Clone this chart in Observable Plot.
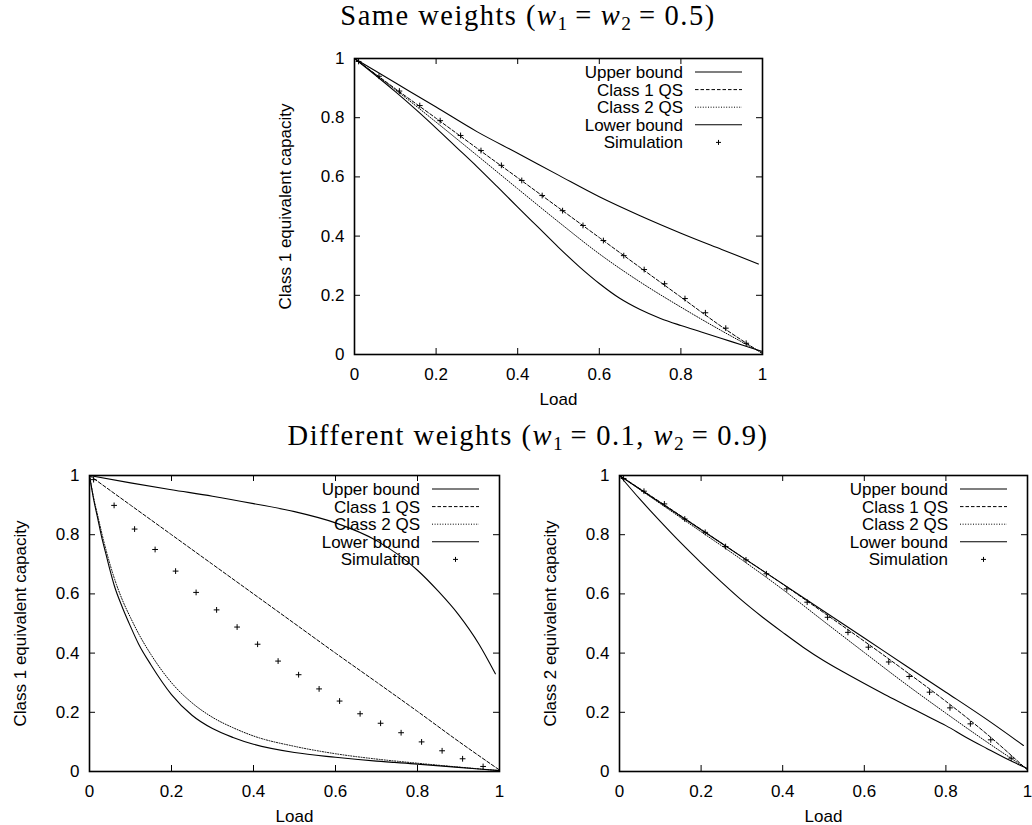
<!DOCTYPE html>
<html><head><meta charset="utf-8">
<script src="https://cdn.jsdelivr.net/npm/d3@7"></script>
<script src="https://cdn.jsdelivr.net/npm/@observablehq/plot@0.6"></script>
<style>
body{margin:0;background:#fff;}
#wrap{position:relative;width:1032px;height:825px;overflow:hidden;background:#fff;}
.title{position:absolute;left:12px;width:1032px;text-align:center;font-family:"Liberation Serif","DejaVu Serif",serif;font-size:28.5px;letter-spacing:1.5px;line-height:30px;color:#000;white-space:nowrap;}
.title sub{font-size:68%;vertical-align:-0.28em;line-height:0;letter-spacing:0;}
.title i{font-style:italic;}
.title .op{margin:0 8px;}
.panel{position:absolute;}
</style></head>
<body><div id="wrap">
<div class="title" style="top:1px">Same weights (<i>w</i><sub>1</sub><span class="op">=</span><i>w</i><sub>2</sub><span class="op">=</span>0.5)</div>
<div class="title" style="top:421px">Different weights (<i>w</i><sub>1</sub><span class="op">=</span>0.1, <i>w</i><sub>2</sub><span class="op">=</span>0.9)</div>
<div class="panel" id="pTop" style="left:274px;top:46px"></div>
<div class="panel" id="pBL" style="left:9px;top:463px"></div>
<div class="panel" id="pBR" style="left:539px;top:463px"></div>
</div>
<script>
// ---------- shared ----------
const loadTicks = [0, 0.2, 0.4, 0.6, 0.8, 1];
const tickLabels = ["0", "0.2", "0.4", "0.6", "0.8", "1"];
const seriesNames = ["Upper bound", "Class 1 QS", "Class 2 QS", "Lower bound", "Simulation"];
const xLabel = "Load";
const simLoad = [0.01,0.06,0.11,0.16,0.21,0.26,0.31,0.36,0.41,0.46,0.51,0.56,0.61,0.66,0.71,0.76,0.81,0.86,0.91,0.96];
const grid10 = [0,0.1,0.2,0.3,0.4,0.5,0.6,0.7,0.8,0.9,1];
const grid20 = [0,0.05,0.1,0.15,0.2,0.25,0.3,0.35,0.4,0.45,0.5,0.55,0.6,0.65,0.7,0.75,0.8,0.85,0.9,0.95,1];

// ---------- top panel: same weights, class 1 ----------
const topYLabel = "Class 1 equivalent capacity";
const topUpperLoad = [0,0.1,0.2,0.3,0.4,0.5,0.6,0.7,0.8,0.9,0.99];
const topUpper = [1,0.918,0.836,0.753,0.68,0.606,0.533,0.469,0.41,0.355,0.306];
const topClass1 = [1,0.898,0.798,0.697,0.597,0.496,0.395,0.294,0.194,0.094,0.003];
const topClass2 = [1,0.895,0.785,0.673,0.56,0.448,0.34,0.245,0.16,0.08,0.005];
const topLower = [1,0.945,0.888,0.828,0.765,0.70,0.635,0.567,0.498,0.43,0.362,0.298,0.24,0.19,0.152,0.122,0.098,0.076,0.054,0.032,0.01];
const topSim = [0.99,0.94,0.89,0.841,0.79,0.74,0.689,0.639,0.588,0.537,0.486,0.436,0.385,0.334,0.287,0.239,0.189,0.141,0.089,0.038];

// ---------- bottom left: different weights, class 1 ----------
const blYLabel = "Class 1 equivalent capacity";
const blUpperLoad = [0,0.1,0.2,0.3,0.4,0.5,0.6,0.7,0.8,0.85,0.9,0.95,0.99];
const blUpper = [1,0.975,0.952,0.93,0.905,0.878,0.84,0.78,0.68,0.61,0.53,0.43,0.33];
const blClass1 = [1,0.9,0.8,0.7,0.6,0.5,0.4,0.302,0.203,0.102,0.005];
const blCurveLoad = [0,0.01,0.02,0.03,0.04,0.05,0.06,0.08,0.1,0.12,0.15,0.2,0.25,0.3,0.35,0.4,0.5,0.6,0.7,0.8,0.9,1];
const blClass2 = [1,0.925,0.865,0.805,0.75,0.7,0.655,0.58,0.52,0.465,0.395,0.3,0.232,0.183,0.148,0.12,0.085,0.06,0.042,0.028,0.015,0.003];
const blLower = [1,0.92,0.855,0.79,0.735,0.68,0.63,0.555,0.49,0.43,0.36,0.26,0.19,0.145,0.115,0.092,0.064,0.048,0.035,0.025,0.014,0.003];
const blSim = [0.986,0.899,0.819,0.75,0.677,0.605,0.546,0.488,0.43,0.373,0.327,0.279,0.238,0.195,0.163,0.131,0.1,0.07,0.043,0.017];

// ---------- bottom right: different weights, class 2 ----------
const brYLabel = "Class 2 equivalent capacity";
const brUpperLoad = [0,0.1,0.2,0.3,0.4,0.5,0.6,0.7,0.8,0.9,0.99];
const brUpper = [1,0.908,0.817,0.725,0.634,0.542,0.451,0.359,0.268,0.176,0.088];
const brClass1 = [1,0.91,0.818,0.725,0.633,0.537,0.44,0.34,0.237,0.127,0.005];
const brClass2 = [1,0.905,0.81,0.715,0.615,0.508,0.402,0.297,0.197,0.1,0.008];
const brLower = [1,0.92,0.845,0.773,0.705,0.64,0.578,0.522,0.47,0.42,0.375,0.335,0.297,0.26,0.225,0.19,0.155,0.115,0.078,0.042,0.01];
const brSim = [0.99,0.947,0.904,0.853,0.808,0.76,0.715,0.668,0.617,0.572,0.521,0.47,0.42,0.37,0.321,0.268,0.215,0.161,0.107,0.045];

const zip = (xs, ys) => xs.map((x, i) => ({x, y: ys[i]}));
const fmt = d => tickLabels[loadTicks.indexOf(d)];
const DASH = "3.5,2";
const DOT = "1,1.6";

function panel(el, cfg) {
  const ml = 80, mt = 12, mb = 52, mr = cfg.mr, W = cfg.innerW, H = 296;
  const inner = loadTicks.slice(1, -1);
  const line = (data, extra) => Plot.line(data, {x: "x", y: "y", stroke: "#000", strokeWidth: 1.1, curve: "monotone-x", ...extra});
  const plot = Plot.plot({
    width: ml + W + mr, height: mt + H + mb,
    marginLeft: ml, marginRight: mr, marginTop: mt, marginBottom: mb,
    style: {fontFamily: "'Liberation Sans', Arial, sans-serif", fontSize: "17px", color: "#000", background: "#fff", overflow: "visible"},
    x: {domain: [0, 1]},
    y: {domain: [0, 1]},
    marks: [
      Plot.axisX(loadTicks, {tickSize: 0, tickPadding: 13, tickFormat: fmt, label: xLabel, labelAnchor: "center", labelArrow: "none", labelOffset: 50, fontSize: 17}),
      Plot.axisY(loadTicks, {tickSize: 0, tickPadding: 10, tickFormat: fmt, label: cfg.ylabel, labelAnchor: "center", labelArrow: "none", labelOffset: 76, fontSize: 17}),
      Plot.ruleX(inner, {x: d => d, insetTop: H - 6, stroke: "#000", strokeWidth: 1}),
      Plot.ruleX(inner, {x: d => d, insetBottom: H - 6, stroke: "#000", strokeWidth: 1}),
      Plot.ruleY(inner, {y: d => d, insetRight: W - 6, stroke: "#000", strokeWidth: 1}),
      Plot.ruleY(inner, {y: d => d, insetLeft: W - 6, stroke: "#000", strokeWidth: 1}),
      line(cfg.upper),
      line(cfg.class1, {strokeDasharray: DASH, strokeWidth: 1}),
      line(cfg.class2, {strokeDasharray: DOT, strokeWidth: 1}),
      line(cfg.lower),
      Plot.dot(cfg.sim, {x: "x", y: "y", symbol: "plus", r: 2, stroke: "#000", strokeWidth: 1}),
      Plot.frame({stroke: "#000", strokeWidth: 1.6})
    ]
  });
  // legend (inside, top-right, gnuplot style)
  const g = d3.select(plot).append("g")
    .attr("transform", `translate(${ml + W},${mt})`)
    .attr("font-family", "'Liberation Sans', Arial, sans-serif")
    .attr("font-size", 17);
  seriesNames.forEach((name, i) => {
    const y = 14 + i * 17.6;
    g.append("text").attr("x", -79).attr("y", y).attr("dy", "0.35em")
      .attr("text-anchor", "end").attr("fill", "#000").text(name);
    if (i < 4) {
      g.append("line").attr("x1", -67).attr("x2", -20).attr("y1", y).attr("y2", y)
        .attr("stroke", "#000").attr("stroke-width", i === 0 || i === 3 ? 1.1 : 1)
        .attr("stroke-dasharray", i === 1 ? DASH : i === 2 ? DOT : null);
    } else {
      g.append("path").attr("d", `M${-46},${y}h5M${-43.5},${y - 2.5}v5`)
        .attr("stroke", "#000").attr("stroke-width", 1).attr("fill", "none");
    }
  });
  document.getElementById(el).appendChild(plot);
}

panel("pTop", {innerW: 408, mr: 20, ylabel: topYLabel,
  upper: zip(topUpperLoad, topUpper), class1: zip(grid10, topClass1), class2: zip(grid10, topClass2),
  lower: zip(grid20, topLower), sim: zip(simLoad, topSim)});
panel("pBL", {innerW: 410, mr: 20, ylabel: blYLabel,
  upper: zip(blUpperLoad, blUpper), class1: zip(grid10, blClass1), class2: zip(blCurveLoad, blClass2),
  lower: zip(blCurveLoad, blLower), sim: zip(simLoad, blSim)});
panel("pBR", {innerW: 408, mr: 5, ylabel: brYLabel,
  upper: zip(brUpperLoad, brUpper), class1: zip(grid10, brClass1), class2: zip(grid10, brClass2),
  lower: zip(grid20, brLower), sim: zip(simLoad, brSim)});
</script>
</body></html>
